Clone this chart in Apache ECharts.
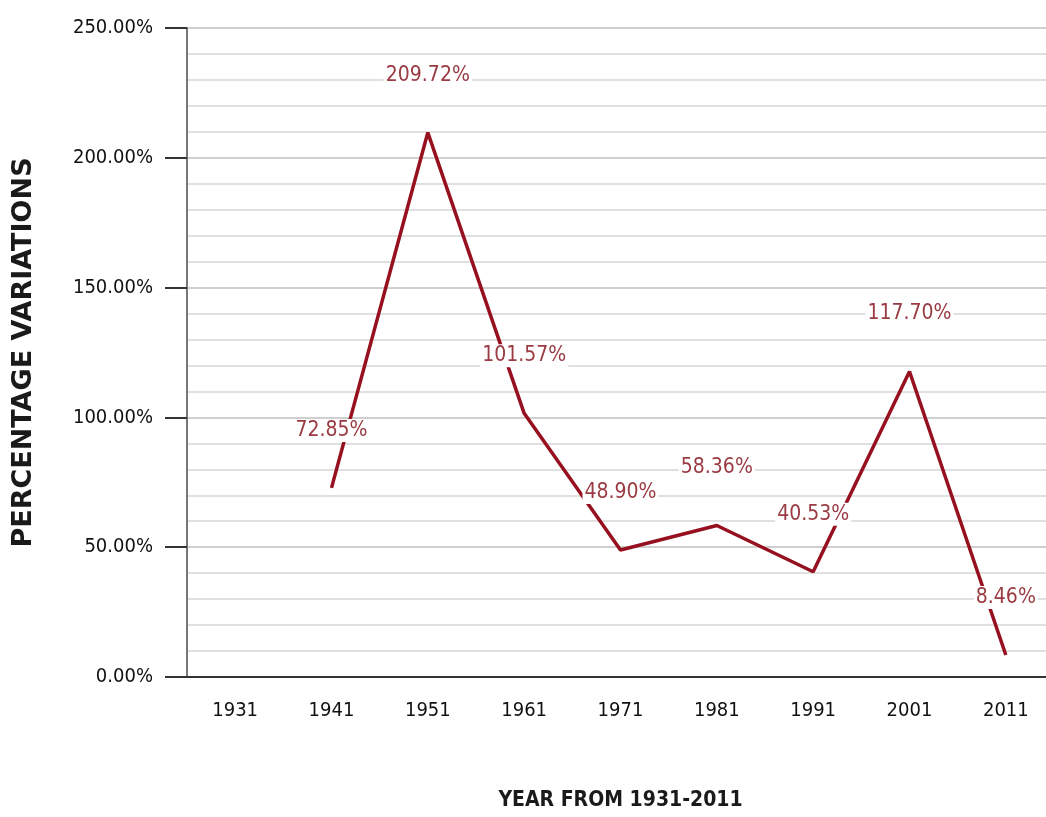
<!DOCTYPE html>
<html>
<head>
<meta charset="utf-8">
<script src="https://cdn.jsdelivr.net/npm/echarts@6/dist/echarts.min.js"></script>
<style>html,body{margin:0;padding:0;background:#fff}#c{width:1046px;height:817px}</style>
</head>
<body>
<div id="c"></div>
<script>
const years = ['1931','1941','1951','1961','1971','1981','1991','2001','2011'];
const variations = [null, 72.85, 209.72, 101.57, 48.90, 58.36, 40.53, 117.70, 8.46];
const yMin = 0, yMax = 250, yStep = 50;

const narrow = '"Liberation Sans Narrow","DejaVu Sans Condensed","Arial Narrow",sans-serif';
const chart = echarts.init(document.getElementById('c'));
chart.setOption({
  animation: false,
  backgroundColor: '#fff',
  grid: {left: 187, top: 28, width: 867, height: 649, containLabel: false, outerBoundsMode: 'none'},
  xAxis: {
    type: 'category',
    data: years,
    boundaryGap: true,
    name: 'YEAR FROM 1931-2011',
    nameLocation: 'middle',
    nameGap: 113,
    nameTextStyle: {fontFamily: narrow, fontSize: 21, fontWeight: 'bold', color: '#1a1a1a'},
    axisLine: {lineStyle: {color: '#333', width: 2}},
    axisTick: {show: false},
    axisLabel: {margin: 24, fontFamily: narrow, fontSize: 20, color: '#111'},
    splitLine: {show: false}
  },
  yAxis: {
    type: 'value',
    min: yMin, max: yMax, interval: yStep,
    name: 'PERCENTAGE VARIATIONS',
    nameLocation: 'middle',
    nameGap: 150,
    nameRotate: 90,
    nameTextStyle: {fontFamily: '"DejaVu Sans",sans-serif', fontSize: 27, fontWeight: 'bold', color: '#1a1a1a'},
    axisLine: {show: true, lineStyle: {color: '#777', width: 2}},
    axisTick: {show: true, length: 22, lineStyle: {color: '#333', width: 2}},
    axisLabel: {margin: 34, fontFamily: narrow, fontSize: 20, color: '#111',
      formatter: v => v.toFixed(2) + '%'},
    splitLine: {show: true, lineStyle: {color: '#cfcfcf', width: 2}},
    minorTick: {show: false, splitNumber: 5},
    minorSplitLine: {show: true, lineStyle: {color: '#e0e0e0', width: 2}}
  },
  series: [{
    type: 'line',
    data: variations,
    connectNulls: false,
    showSymbol: true,
    symbol: 'circle',
    symbolSize: 0,
    lineStyle: {color: '#96101f', width: 3.5},
    itemStyle: {color: '#96101f'},
    label: {
      show: true,
      position: 'top',
      distance: 46,
      fontFamily: narrow,
      fontSize: 21,
      color: '#9a3a42',
      backgroundColor: '#fff',
      padding: [1, 2],
      formatter: p => p.value == null ? '' : p.value.toFixed(2) + '%'
    }
  }]
});
</script>
</body>
</html>
